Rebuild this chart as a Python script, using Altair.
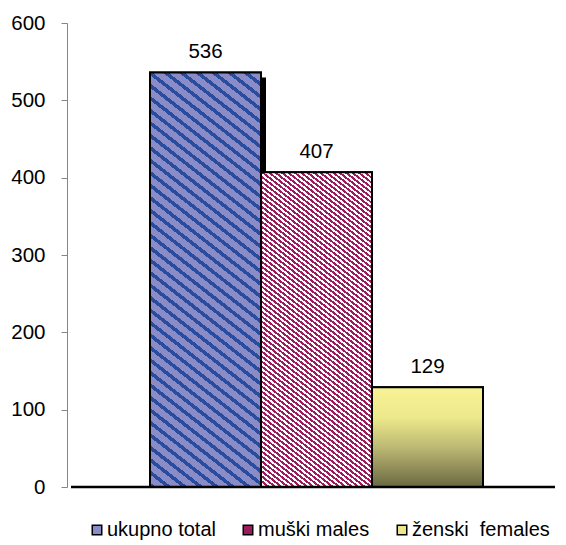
import altair as alt
import pandas as pd

# ---- data ----
categories = ["ukupno total", "muški males", "ženski\u00a0 females"]
values = [536, 407, 129]
y_ticks = [0, 100, 200, 300, 400, 500, 600]

df = pd.DataFrame({"i": [0, 1, 2], "cat": categories, "value": values})
zero_df = pd.DataFrame({"z": [0]})

# ---- layout / style ----
PLOT_W, PLOT_H = 488, 464
Y_MAX = 600
BAND_RANGE = [83, 416]
BAR_W = (BAND_RANGE[1] - BAND_RANGE[0]) / 3
FONT = "Liberation Sans"
FS = 20.5
SHADOW_PX = 5
SHADOW_UNITS = SHADOW_PX * Y_MAX / PLOT_H


def stripe_gradient(w, h, slope, period_h, frac, col_a, col_b):
    """Diagonal stripes (down-right) built from a hard-stop linear gradient."""
    span = slope * w + h
    k = span / (slope ** 2 * w ** 2 + h ** 2)
    x2 = k * slope * w
    y2 = 1 - k * h
    p = slope * period_h / span
    stops = []
    n = int(1 / p) + 2
    for j in range(n):
        a0 = j * p
        a1 = min((j + frac) * p, 1.0)
        b1 = min((j + 1) * p, 1.0)
        if a0 >= 1:
            break
        stops += [
            {"offset": round(a0, 5), "color": col_a},
            {"offset": round(a1, 5), "color": col_a},
            {"offset": round(a1, 5), "color": col_b},
            {"offset": round(b1, 5), "color": col_b},
        ]
    return alt.LinearGradient(gradient="linear", x1=0, y1=1, x2=x2, y2=y2,
                              stops=stops)


heights = [v * PLOT_H / Y_MAX for v in values]
grad_total = stripe_gradient(BAR_W, heights[0], 0.78, 16, 0.36, "#2a4c9f", "#8a8cc8")
grad_males = stripe_gradient(BAR_W, heights[1], 0.78, 6.4, 0.5, "#9b1b5d", "#ffffff")
grad_females = alt.LinearGradient(
    gradient="linear", x1=0, y1=0, x2=0, y2=1,
    stops=[
        {"offset": 0, "color": "#f8f396"},
        {"offset": 0.3, "color": "#ede98b"},
        {"offset": 0.6, "color": "#bdb974"},
        {"offset": 1, "color": "#6a6842"},
    ],
)
grads = [grad_total, grad_males, grad_females]

x_enc = alt.X("cat:N",
              scale=alt.Scale(domain=categories, range=BAND_RANGE,
                              paddingInner=0, paddingOuter=0),
              axis=None)
y_axis = alt.Axis(values=y_ticks, title=None, grid=False, tickSize=6,
                  labelPadding=16, domainColor="#868686", tickColor="#868686",
                  labelFont=FONT, labelFontSize=FS, labelColor="black")
y_scale = alt.Scale(domain=[0, Y_MAX], nice=False)
y_enc = alt.Y("value:Q", scale=y_scale, axis=y_axis)

base = alt.Chart(df)

shadow = base.transform_filter(alt.datum.i == 0).transform_calculate(
    sv=f"datum.value - {SHADOW_UNITS}"
).mark_bar(color="black", xOffset=SHADOW_PX, x2Offset=SHADOW_PX).encode(
    x=x_enc, y=alt.Y("sv:Q", scale=y_scale, axis=y_axis)
)

solid = base.mark_bar(stroke="black", strokeWidth=2).encode(
    x=x_enc,
    y=y_enc,
    color=alt.Color(
        "cat:N",
        scale=alt.Scale(domain=categories, range=["#8a8cc8", "#9b1b5d", "#ece88a"]),
        legend=alt.Legend(
            title=None, orient="none", direction="horizontal",
            legendX=20, legendY=497, padding=0,
            symbolType="square", symbolSize=90,
            symbolStrokeColor="black", symbolStrokeWidth=1.5,
            labelFont=FONT, labelFontSize=20, labelColor="black",
            labelOffset=0, columnPadding=22,
        ),
    ),
)

hatched = [
    base.transform_filter(alt.datum.i == k).mark_bar(
        fill=grads[k], stroke="black", strokeWidth=2
    ).encode(x=x_enc, y=y_enc)
    for k in range(3)
]

labels = base.mark_text(
    baseline="alphabetic", dy=-14, font=FONT, fontSize=FS, color="black"
).encode(x=x_enc, y=y_enc, text=alt.Text("value:Q"))

baseline = alt.Chart(zero_df).mark_rule(color="black", strokeWidth=2.5).encode(
    y=alt.Y("z:Q", scale=y_scale, axis=y_axis),
    x=alt.value(4),
    x2=alt.value(PLOT_W),
)

chart = alt.layer(shadow, solid, *hatched, labels, baseline).properties(
    width=PLOT_W,
    height=PLOT_H,
    autosize=alt.AutoSizeParams(type="none"),
    padding={"left": 59, "top": 15, "right": 3, "bottom": 58},
).configure_view(stroke=None)

chart.save("out.html", embed_options={"renderer": "svg", "actions": False})
